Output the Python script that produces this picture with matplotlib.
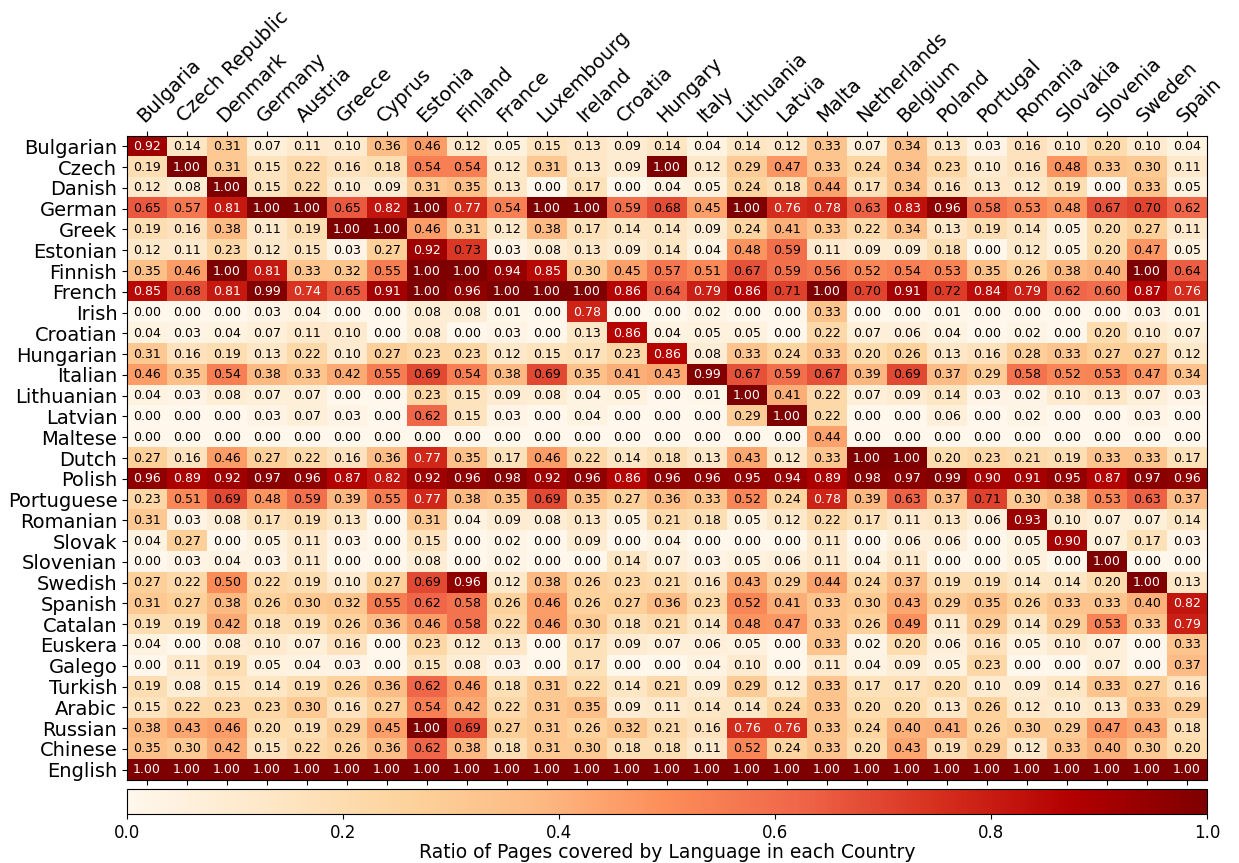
import numpy as np
import matplotlib
matplotlib.use("Agg")
import matplotlib.pyplot as plt

countries = ["Bulgaria", "Czech Republic", "Denmark", "Germany", "Austria", "Greece",
             "Cyprus", "Estonia", "Finland", "France", "Luxembourg", "Ireland", "Croatia",
             "Hungary", "Italy", "Lithuania", "Latvia", "Malta", "Netherlands", "Belgium",
             "Poland", "Portugal", "Romania", "Slovakia", "Slovenia", "Sweden", "Spain"]

languages = ["Bulgarian", "Czech", "Danish", "German", "Greek", "Estonian", "Finnish",
             "French", "Irish", "Croatian", "Hungarian", "Italian", "Lithuanian", "Latvian",
             "Maltese", "Dutch", "Polish", "Portuguese", "Romanian", "Slovak", "Slovenian",
             "Swedish", "Spanish", "Catalan", "Euskera", "Galego", "Turkish", "Arabic",
             "Russian", "Chinese", "English"]

bulgarian = [0.92, 0.14, 0.31, 0.07, 0.11, 0.10, 0.36, 0.46, 0.12, 0.05, 0.15, 0.13, 0.09, 0.14, 0.04, 0.14, 0.12, 0.33, 0.07, 0.34, 0.13, 0.03, 0.16, 0.10, 0.20, 0.10, 0.04]
czech = [0.19, 1.00, 0.31, 0.15, 0.22, 0.16, 0.18, 0.54, 0.54, 0.12, 0.31, 0.13, 0.09, 1.00, 0.12, 0.29, 0.47, 0.33, 0.24, 0.34, 0.23, 0.10, 0.16, 0.48, 0.33, 0.30, 0.11]
danish = [0.12, 0.08, 1.00, 0.15, 0.22, 0.10, 0.09, 0.31, 0.35, 0.13, 0.00, 0.17, 0.00, 0.04, 0.05, 0.24, 0.18, 0.44, 0.17, 0.34, 0.16, 0.13, 0.12, 0.19, 0.00, 0.33, 0.05]
german = [0.65, 0.57, 0.81, 1.00, 1.00, 0.65, 0.82, 1.00, 0.77, 0.54, 1.00, 1.00, 0.59, 0.68, 0.45, 1.00, 0.76, 0.78, 0.63, 0.83, 0.96, 0.58, 0.53, 0.48, 0.67, 0.70, 0.62]
greek = [0.19, 0.16, 0.38, 0.11, 0.19, 1.00, 1.00, 0.46, 0.31, 0.12, 0.38, 0.17, 0.14, 0.14, 0.09, 0.24, 0.41, 0.33, 0.22, 0.34, 0.13, 0.19, 0.14, 0.05, 0.20, 0.27, 0.11]
estonian = [0.12, 0.11, 0.23, 0.12, 0.15, 0.03, 0.27, 0.92, 0.73, 0.03, 0.08, 0.13, 0.09, 0.14, 0.04, 0.48, 0.59, 0.11, 0.09, 0.09, 0.18, 0.00, 0.12, 0.05, 0.20, 0.47, 0.05]
finnish = [0.35, 0.46, 1.00, 0.81, 0.33, 0.32, 0.55, 1.00, 1.00, 0.94, 0.85, 0.30, 0.45, 0.57, 0.51, 0.67, 0.59, 0.56, 0.52, 0.54, 0.53, 0.35, 0.26, 0.38, 0.40, 1.00, 0.64]
french = [0.85, 0.68, 0.81, 0.99, 0.74, 0.65, 0.91, 1.00, 0.96, 1.00, 1.00, 1.00, 0.86, 0.64, 0.79, 0.86, 0.71, 1.00, 0.70, 0.91, 0.72, 0.84, 0.79, 0.62, 0.60, 0.87, 0.76]
irish = [0.00, 0.00, 0.00, 0.03, 0.04, 0.00, 0.00, 0.08, 0.08, 0.01, 0.00, 0.78, 0.00, 0.00, 0.02, 0.00, 0.00, 0.33, 0.00, 0.00, 0.01, 0.00, 0.00, 0.00, 0.00, 0.03, 0.01]
croatian = [0.04, 0.03, 0.04, 0.07, 0.11, 0.10, 0.00, 0.08, 0.00, 0.03, 0.00, 0.13, 0.86, 0.04, 0.05, 0.05, 0.00, 0.22, 0.07, 0.06, 0.04, 0.00, 0.02, 0.00, 0.20, 0.10, 0.07]
hungarian = [0.31, 0.16, 0.19, 0.13, 0.22, 0.10, 0.27, 0.23, 0.23, 0.12, 0.15, 0.17, 0.23, 0.86, 0.08, 0.33, 0.24, 0.33, 0.20, 0.26, 0.13, 0.16, 0.28, 0.33, 0.27, 0.27, 0.12]
italian = [0.46, 0.35, 0.54, 0.38, 0.33, 0.42, 0.55, 0.69, 0.54, 0.38, 0.69, 0.35, 0.41, 0.43, 0.99, 0.67, 0.59, 0.67, 0.39, 0.69, 0.37, 0.29, 0.58, 0.52, 0.53, 0.47, 0.34]
lithuanian = [0.04, 0.03, 0.08, 0.07, 0.07, 0.00, 0.00, 0.23, 0.15, 0.09, 0.08, 0.04, 0.05, 0.00, 0.01, 1.00, 0.41, 0.22, 0.07, 0.09, 0.14, 0.03, 0.02, 0.10, 0.13, 0.07, 0.03]
latvian = [0.00, 0.00, 0.00, 0.03, 0.07, 0.03, 0.00, 0.62, 0.15, 0.03, 0.00, 0.04, 0.00, 0.00, 0.00, 0.29, 1.00, 0.22, 0.00, 0.00, 0.06, 0.00, 0.02, 0.00, 0.00, 0.03, 0.00]
maltese = [0.00, 0.00, 0.00, 0.00, 0.00, 0.00, 0.00, 0.00, 0.00, 0.00, 0.00, 0.00, 0.00, 0.00, 0.00, 0.00, 0.00, 0.44, 0.00, 0.00, 0.00, 0.00, 0.00, 0.00, 0.00, 0.00, 0.00]
dutch = [0.27, 0.16, 0.46, 0.27, 0.22, 0.16, 0.36, 0.77, 0.35, 0.17, 0.46, 0.22, 0.14, 0.18, 0.13, 0.43, 0.12, 0.33, 1.00, 1.00, 0.20, 0.23, 0.21, 0.19, 0.33, 0.33, 0.17]
polish = [0.96, 0.89, 0.92, 0.97, 0.96, 0.87, 0.82, 0.92, 0.96, 0.98, 0.92, 0.96, 0.86, 0.96, 0.96, 0.95, 0.94, 0.89, 0.98, 0.97, 0.99, 0.90, 0.91, 0.95, 0.87, 0.97, 0.96]
portuguese = [0.23, 0.51, 0.69, 0.48, 0.59, 0.39, 0.55, 0.77, 0.38, 0.35, 0.69, 0.35, 0.27, 0.36, 0.33, 0.52, 0.24, 0.78, 0.39, 0.63, 0.37, 0.71, 0.30, 0.38, 0.53, 0.63, 0.37]
romanian = [0.31, 0.03, 0.08, 0.17, 0.19, 0.13, 0.00, 0.31, 0.04, 0.09, 0.08, 0.13, 0.05, 0.21, 0.18, 0.05, 0.12, 0.22, 0.17, 0.11, 0.13, 0.06, 0.93, 0.10, 0.07, 0.07, 0.14]
slovak = [0.04, 0.27, 0.00, 0.05, 0.11, 0.03, 0.00, 0.15, 0.00, 0.02, 0.00, 0.09, 0.00, 0.04, 0.00, 0.00, 0.00, 0.11, 0.00, 0.06, 0.06, 0.00, 0.05, 0.90, 0.07, 0.17, 0.03]
slovenian = [0.00, 0.03, 0.04, 0.03, 0.11, 0.00, 0.00, 0.08, 0.00, 0.02, 0.00, 0.00, 0.14, 0.07, 0.03, 0.05, 0.06, 0.11, 0.04, 0.11, 0.00, 0.00, 0.05, 0.00, 1.00, 0.00, 0.00]
swedish = [0.27, 0.22, 0.50, 0.22, 0.19, 0.10, 0.27, 0.69, 0.96, 0.12, 0.38, 0.26, 0.23, 0.21, 0.16, 0.43, 0.29, 0.44, 0.24, 0.37, 0.19, 0.19, 0.14, 0.14, 0.20, 1.00, 0.13]
spanish = [0.31, 0.27, 0.38, 0.26, 0.30, 0.32, 0.55, 0.62, 0.58, 0.26, 0.46, 0.26, 0.27, 0.36, 0.23, 0.52, 0.41, 0.33, 0.30, 0.43, 0.29, 0.35, 0.26, 0.33, 0.33, 0.40, 0.82]
catalan = [0.19, 0.19, 0.42, 0.18, 0.19, 0.26, 0.36, 0.46, 0.58, 0.22, 0.46, 0.30, 0.18, 0.21, 0.14, 0.48, 0.47, 0.33, 0.26, 0.49, 0.11, 0.29, 0.14, 0.29, 0.53, 0.33, 0.79]
euskera = [0.04, 0.00, 0.08, 0.10, 0.07, 0.16, 0.00, 0.23, 0.12, 0.13, 0.00, 0.17, 0.09, 0.07, 0.06, 0.05, 0.00, 0.33, 0.02, 0.20, 0.06, 0.16, 0.05, 0.10, 0.07, 0.00, 0.33]
galego = [0.00, 0.11, 0.19, 0.05, 0.04, 0.03, 0.00, 0.15, 0.08, 0.03, 0.00, 0.17, 0.00, 0.00, 0.04, 0.10, 0.00, 0.11, 0.04, 0.09, 0.05, 0.23, 0.00, 0.00, 0.07, 0.00, 0.37]
turkish = [0.19, 0.08, 0.15, 0.14, 0.19, 0.26, 0.36, 0.62, 0.46, 0.18, 0.31, 0.22, 0.14, 0.21, 0.09, 0.29, 0.12, 0.33, 0.17, 0.17, 0.20, 0.10, 0.09, 0.14, 0.33, 0.27, 0.16]
arabic = [0.15, 0.22, 0.23, 0.23, 0.30, 0.16, 0.27, 0.54, 0.42, 0.22, 0.31, 0.35, 0.09, 0.11, 0.14, 0.14, 0.24, 0.33, 0.20, 0.20, 0.13, 0.26, 0.12, 0.10, 0.13, 0.33, 0.29]
russian = [0.38, 0.43, 0.46, 0.20, 0.19, 0.29, 0.45, 1.00, 0.69, 0.27, 0.31, 0.26, 0.32, 0.21, 0.16, 0.76, 0.76, 0.33, 0.24, 0.40, 0.41, 0.26, 0.30, 0.29, 0.47, 0.43, 0.18]
chinese = [0.35, 0.30, 0.42, 0.15, 0.22, 0.26, 0.36, 0.62, 0.38, 0.18, 0.31, 0.30, 0.18, 0.18, 0.11, 0.52, 0.24, 0.33, 0.20, 0.43, 0.19, 0.29, 0.12, 0.33, 0.40, 0.30, 0.20]
english = [1.00] * 27

data = np.array([bulgarian, czech, danish, german, greek, estonian, finnish, french,
                 irish, croatian, hungarian, italian, lithuanian, latvian, maltese, dutch,
                 polish, portuguese, romanian, slovak, slovenian, swedish, spanish, catalan,
                 euskera, galego, turkish, arabic, russian, chinese, english])

fig = plt.figure(figsize=(12.39, 8.63), dpi=100)
ax = fig.add_axes([127 / 1239, 1 - 780 / 863, 1080 / 1239, 644 / 863])
im = ax.imshow(data, cmap="OrRd", vmin=0, vmax=1, aspect="auto")

ax.set_xticks(range(len(countries)))
ax.set_xticklabels(countries, fontsize=14, rotation=45, ha="left", rotation_mode="anchor")
ax.set_yticks(range(len(languages)))
ax.set_yticklabels(languages, fontsize=14)
ax.tick_params(axis="x", top=True, bottom=True, labeltop=True, labelbottom=False)

for i in range(data.shape[0]):
    for j in range(data.shape[1]):
        v = data[i, j]
        ax.text(j, i, f"{v:.2f}", ha="center", va="center", fontsize=9,
                color="white" if v >= 0.735 else "black")

cax = fig.add_axes([127 / 1239, 1 - 814 / 863, 1080 / 1239, 25 / 863])
cb = fig.colorbar(im, cax=cax, orientation="horizontal")
cb.ax.tick_params(labelsize=12)
cb.set_label("Ratio of Pages covered by Language in each Country", fontsize=13.5, labelpad=1)

fig.savefig("out.png", dpi=100)
